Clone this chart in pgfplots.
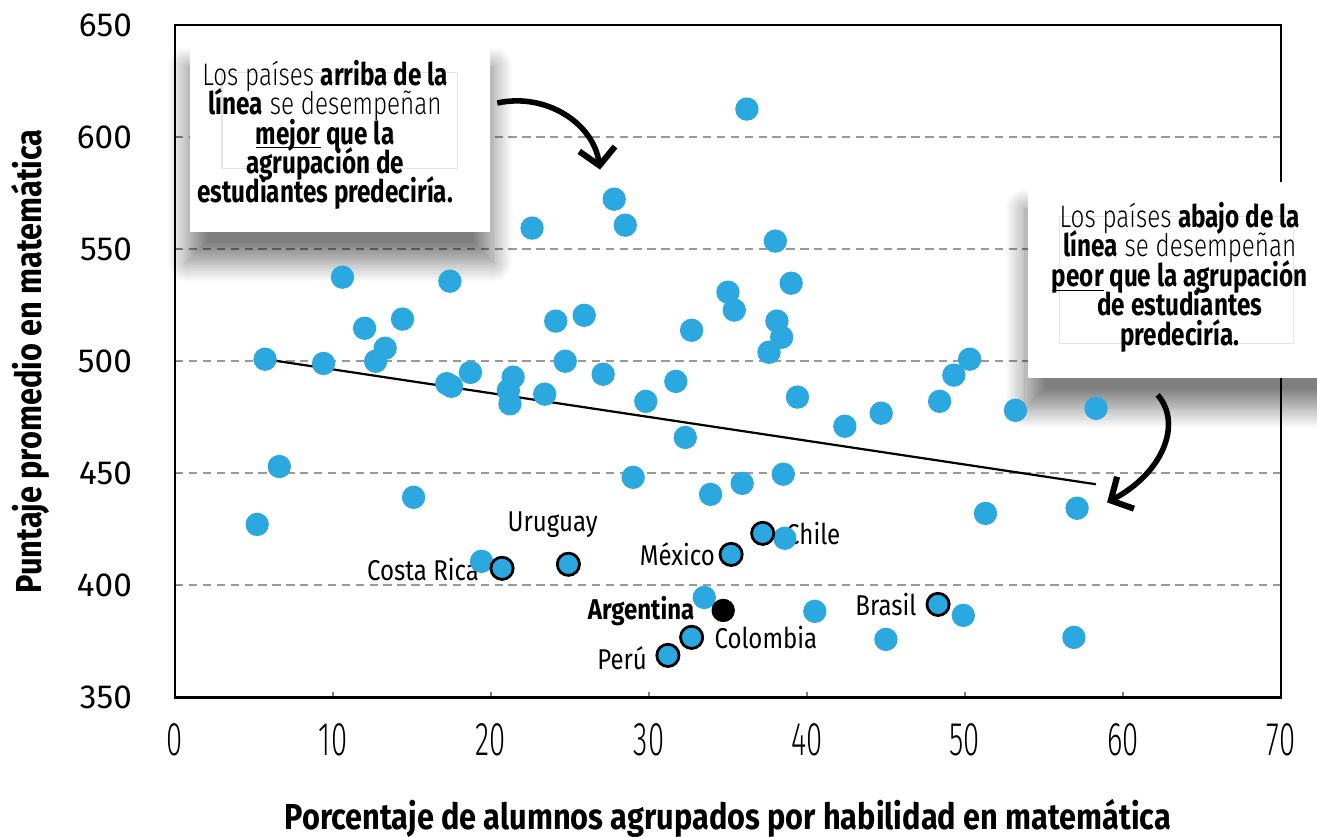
\documentclass[border=0pt]{standalone}
\usepackage{fontspec}
\setmainfont{Fira Sans}
\newfontfamily\condA{Fira Sans}[FakeStretch=0.85]
\newfontfamily\condL{Fira Sans}[FakeStretch=0.78, UprightFont=* Light, BoldFont=* Bold]
\newfontfamily\condB{Fira Sans}[FakeStretch=0.62, UprightFont=* Light]
\newfontfamily\condC{Fira Sans}[FakeStretch=0.84]
\usepackage{pgfplots}
\pgfplotsset{compat=1.18}
\usetikzlibrary{arrows.meta,shadows.blur}
\definecolor{dotblue}{RGB}{44,168,224}
\newcommand\ul[1]{\underline{\smash{#1}}}
\begin{document}
\begin{tikzpicture}
\useasboundingbox (-63pt,-50pt) rectangle (411pt,251pt);
\clip (-63pt,-50pt) rectangle (411pt,251pt);
\begin{axis}[
  scale only axis, width=398pt, height=242pt,
  xmin=0, xmax=70, ymin=350, ymax=650,
  xtick={0,10,...,70}, ytick={350,400,...,650},
  clip=false,
  axis line style={line width=0.8pt},
  major tick length=2pt,
  tick style={gray, line width=0.5pt},
  xtick pos=bottom, ytick pos=left,
  tick align=inside,
  /pgf/number format/assume math mode=true,
  xticklabel style={font=\condB\fontsize{17}{17}\selectfont, yshift=-6pt},
  yticklabel style={font=\fontsize{12}{12}\selectfont, xshift=-12pt},
  ymajorgrids, grid style={gray!80, line width=0.7pt, dash pattern=on 3pt off 2pt},
  xlabel={\textbf{Porcentaje de alumnos agrupados por habilidad en matemática}},
  xlabel style={font=\condA\fontsize{13}{13}\selectfont, at={(axis description cs:0.5,0)}, anchor=center, yshift=-43.6pt},
  ylabel={\textbf{Puntaje promedio en matemática}},
  ylabel style={font=\condA\fontsize{13}{13}\selectfont, at={(axis description cs:-0.1307,0.5)}, anchor=center},
]
% annotation boxes
\fill[white, blur shadow={shadow xshift=0pt, shadow yshift=-10pt, shadow scale=1.02, shadow blur radius=7pt, shadow blur steps=24, shadow opacity=50}]
  (axis cs:0.95,643.3) rectangle (axis cs:19.94,557.6);
\draw[gray!20, line width=0.4pt] (axis cs:2.97,629) rectangle (axis cs:17.9,586);
\fill[white, blur shadow={shadow xshift=0pt, shadow yshift=-10pt, shadow scale=1.02, shadow blur radius=7pt, shadow blur steps=24, shadow opacity=50}]
  (axis cs:54.0,579.9) rectangle (axis cs:74,492.4);
\draw[gray!20, line width=0.4pt] (axis cs:56.0,564.7) rectangle (axis cs:70.8,508);
\node[font={\condL\fontsize{11.2}{10.6}\selectfont\lineskiplimit=-20pt\lineskip=0pt}, align=center, inner sep=0pt] at (axis cs:9.5,601)
 {Los países \textbf{arriba de la}\\ \textbf{línea} se desempeñan\\ \textbf{\ul{mejor} que la}\\ \textbf{agrupación de}\\ \textbf{estudiantes predeciría.}};
\node[font={\condL\fontsize{11.2}{10.6}\selectfont\lineskiplimit=-20pt\lineskip=0pt}, align=center, inner sep=0pt] at (axis cs:63.6,537.5)
 {Los países \textbf{abajo de la}\\ \textbf{línea} se desempeñan\\ \textbf{\ul{peor} que la agrupación}\\ \textbf{de estudiantes}\\ \textbf{predeciría.}};
% arrows
\draw[line width=2pt, -{Straight Barb[length=6pt,width=13pt,line width=2.2pt]}]
  (axis cs:20.4,615.2) .. controls (axis cs:23.5,620) and (axis cs:26.5,606) .. (axis cs:26.9,585.5);
\draw[line width=2pt, -{Straight Barb[length=6pt,width=13pt,line width=2.2pt]}]
  (axis cs:62.2,485) .. controls (axis cs:63.8,472) and (axis cs:62.5,450) .. (axis cs:59.0,437);
% trend line
\addplot[black, line width=0.8pt] coordinates {(5.7,500.9) (58.3,445.1)};
% all countries
\addplot[only marks, mark=*, mark size=4pt, mark options={fill=dotblue, draw=dotblue}] coordinates {
(5.2,427.2) (5.7,500.9) (6.6,453) (9.4,499) (10.6,537.5) (12.0,514.7) (12.7,500)
(13.3,505.8) (14.4,518.8) (15.1,439.3) (17.2,490) (17.4,535.7) (17.5,488.8)
(18.7,495) (19.4,410.7) (21.1,487) (21.2,481) (21.4,492.9) (22.6,559.4)
(23.4,485.3) (24.1,517.9) (24.7,500) (25.9,520.5) (27.1,494.2) (27.8,572.3)
(28.5,560.7) (29.0,448.2) (29.8,482.1) (31.7,491) (32.3,466) (32.7,513.8)
(33.5,394.6) (33.9,440.6) (35.0,530.8) (35.4,522.8) (35.9,445.5) (36.2,612.5)
(37.6,504) (38.0,553.6) (38.1,517.9) (38.4,510.7) (38.5,449.6) (38.6,421)
(39.0,534.8) (39.4,484) (40.5,388.4) (42.4,471) (44.7,476.8) (45.0,375.9)
(48.4,482.1) (49.3,493.8) (49.9,386.6) (50.3,500.9) (51.3,432.1) (53.2,478.1)
(56.9,376.8) (57.1,434.4) (58.3,479)
};
% highlighted countries
\addplot[only marks, mark=*, mark size=4pt, mark options={fill=dotblue, draw=black, line width=1pt}] coordinates {
(20.7,407.6) (24.9,409.4) (35.2,413.8) (37.2,423.2) (48.3,391.5) (32.7,376.8) (31.2,368.75)
};
\addplot[only marks, mark=*, mark size=4pt, mark options={fill=black, draw=black}] coordinates {(34.7,388.8)};
% labels
\begin{scope}[every node/.style={font=\condC\fontsize{10.3}{10.3}\selectfont, inner sep=0pt}]
\node at (axis cs:15.7,407.2) {Costa Rica};
\node at (axis cs:23.9,427.0) {Uruguay};
\node at (axis cs:31.8,413.8) {México};
\node at (axis cs:40.4,423.2) {Chile};
\node at (axis cs:45.0,391.5) {Brasil};
\node at (axis cs:37.4,376.8) {Colombia};
\node at (axis cs:28.3,367.6) {Perú};
\node at (axis cs:29.5,388.4) {\textbf{Argentina}};
\end{scope}
\end{axis}
\end{tikzpicture}
\end{document}
